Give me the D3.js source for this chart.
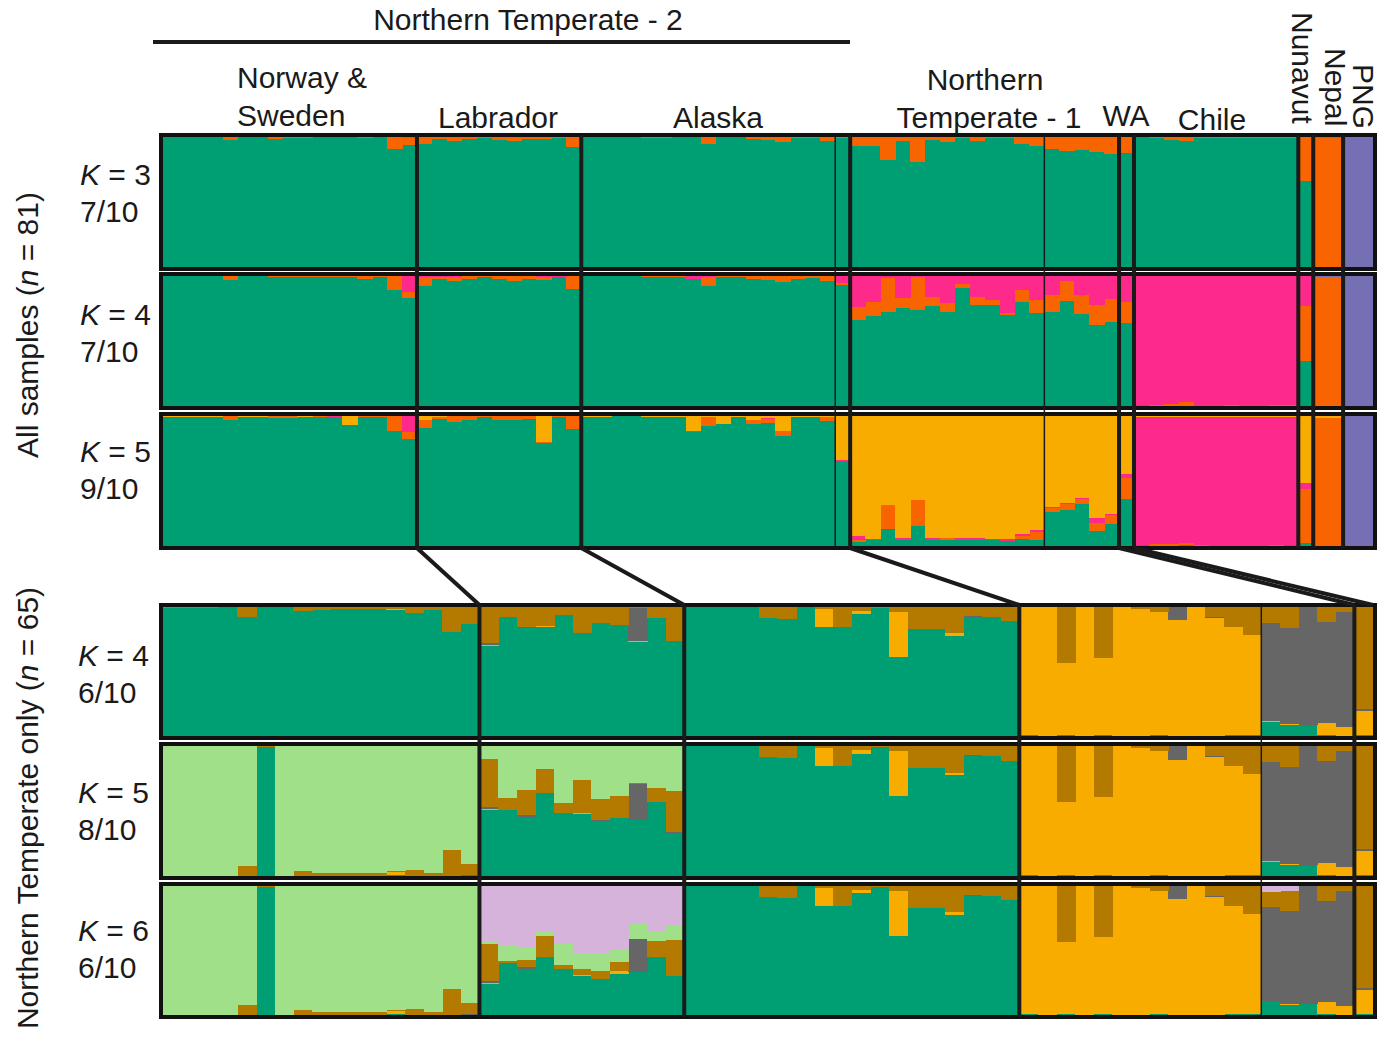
<!DOCTYPE html>
<html>
<head>
<meta charset="utf-8">
<script src="https://cdn.jsdelivr.net/npm/d3@7"></script>
<style>
  body { margin: 0; background: #fff; }
  text { font-family: "Liberation Sans", Arial, sans-serif; fill: #1a1a1a; }
</style>
</head>
<body>
<div id="chart"></div>
<script>
// ======================================================
// --- data: sample groups (in plotting order) and ancestry proportions
// ======================================================

const groupNames = ["Norway & Sweden", "Labrador", "Alaska", "Alaska (1)", "Northern Temperate - 1",
  "Northern Temperate - 1 (b)", "WA", "Chile", "Nunavut", "Nepal", "PNG"];
const groupSizes = [17, 11, 17, 1, 13, 5, 1, 11, 1, 2, 2];   // 81 samples
const nBottom = 65;                                           // first 7 groups

const clusterColors = {
  green: "#009E73", orange: "#F86400", pink: "#FE2A8B", yellow: "#F8AC00",
  purple: "#7570B3", brown: "#B47A00", gray: "#666666", light: "#9FE088", lilac: "#D6B3DA"
};

// --- All samples, K = 3
const k3Green = [
  0.997,0.997,0.997,0.997,0.977,0.997,0.997,0.985,0.995,0.995,0.997,0.997,0.997,0.995,0.997,0.905,0.935,
  0.95,0.982,0.967,0.982,0.992,0.975,0.967,0.982,0.982,0.992,0.923,
  0.997,0.997,0.997,0.997,0.992,0.992,0.997,0.997,0.944,0.997,0.997,0.982,0.975,0.962,0.992,0.992,0.967,
  0.992,
  0.931,0.931,0.823,0.967,0.808,0.974,0.962,0.992,0.967,0.992,0.992,0.944,0.931,
  0.905,0.89,0.897,0.885,0.867,
  0.874,
  0.997,0.992,0.974,0.967,0.995,0.995,0.995,0.995,0.995,0.995,0.995,
  0.66, 0, 0, 0, 0];
const k3Orange = [
  0.003,0.003,0.003,0.003,0.023,0.003,0.003,0.015,0.005,0.005,0.003,0.003,0.003,0.005,0.003,0.095,0.06,
  0.05,0.018,0.033,0.018,0.008,0.025,0.033,0.018,0.018,0.008,0.077,
  0.003,0.003,0.003,0.003,0.008,0.008,0.003,0.003,0.056,0.003,0.003,0.018,0.025,0.038,0.008,0.008,0.033,
  0.008,
  0.069,0.069,0.177,0.033,0.192,0.026,0.038,0.008,0.033,0.008,0.008,0.056,0.069,
  0.095,0.11,0.103,0.115,0.133,
  0.126,
  0.003,0.008,0.026,0.033,0.005,0.005,0.005,0.005,0.005,0.005,0.005,
  0.34, 0.995, 0.995, 0, 0];
const k3Purple = [
  0,0,0,0,0,0,0,0,0,0,0,0,0,0,0,0,0.005,
  0,0,0,0,0,0,0,0,0,0,0,
  0,0,0,0,0,0,0,0,0,0,0,0,0,0,0,0,0,
  0,
  0,0,0,0,0,0,0,0,0,0,0,0,0,
  0,0,0,0,0,
  0,
  0,0,0,0,0,0,0,0,0,0,0,
  0, 0.005, 0.005, 1, 1];

// --- All samples, K = 4
const k4Green = [
  0.997,0.997,0.997,0.997,0.972,0.997,0.997,0.99,0.99,0.992,0.992,0.992,0.992,0.98,0.995,0.895,0.834,
  0.926,0.977,0.962,0.975,0.992,0.975,0.965,0.98,0.972,0.992,0.9,
  0.997,0.997,0.997,0.997,0.99,0.99,0.995,0.977,0.921,0.995,0.995,0.977,0.972,0.956,0.977,0.987,0.962,
  0.931,
  0.663,0.692,0.725,0.753,0.738,0.77,0.72,0.91,0.78,0.775,0.7,0.8,0.715,
  0.724,0.806,0.708,0.623,0.646,
  0.64,
  0.005,0,0,0,0,0,0,0,0,0,0,
  0.347, 0, 0, 0, 0];
const k4Orange = [
  0.003,0.003,0.003,0.003,0.028,0.003,0.003,0.01,0.01,0.008,0.008,0.005,0.005,0.02,0.005,0.105,0.046,
  0.069,0.013,0.033,0.025,0.008,0.025,0.035,0.02,0.02,0,0.1,
  0.003,0.003,0.003,0.003,0.01,0.01,0.005,0,0.074,0.005,0.005,0.023,0.028,0.044,0.023,0.013,0.038,
  0.015,
  0.097,0.108,0.26,0.077,0.254,0.07,0.07,0.03,0.06,0.04,0.015,0.092,0.1,
  0.13,0.154,0.146,0.154,0.177,
  0.16,
  0,0.008,0.015,0.03,0,0,0.008,0,0,0.008,0.008,
  0.423, 0.995, 0.995, 0, 0];
const k4Pink = [
  0,0,0,0,0,0,0,0,0,0,0,0.003,0.003,0,0,0,0.12,
  0.005,0.01,0.005,0,0,0,0,0,0.008,0.008,0,
  0,0,0,0,0,0,0,0.023,0.005,0,0,0,0,0,0,0,0,
  0.054,
  0.24,0.2,0.015,0.17,0.008,0.16,0.21,0.06,0.16,0.185,0.285,0.108,0.185,
  0.146,0.04,0.146,0.223,0.177,
  0.2,
  0.995,0.992,0.985,0.97,1,1,0.992,1,1,0.992,0.992,
  0.23, 0, 0, 0, 0];
const k4Purple = k3Purple.map((v, i) => (i < 77 ? 0 : v));

// --- All samples, K = 5
const k5Green = [
  0.995,0.995,0.995,0.995,0.969,0.995,0.995,0.987,0.987,0.99,0.989,0.989,0.933,0.992,0.994,0.883,0.823,
  0.91,0.98,0.956,0.972,0.995,0.972,0.972,0.98,0.792,0.995,0.897,
  0.995,0.995,0.997,0.997,0.99,0.99,0.995,0.879,0.925,0.94,0.995,0.942,0.949,0.847,0.99,0.99,0.965,
  0.651,
  0.034,0.044,0.127,0.044,0.152,0.044,0.05,0.05,0.05,0.046,0.036,0.057,0.044,
  0.26,0.277,0.32,0.117,0.17,
  0.365,
  0.005,0,0.003,0.005,0,0,0,0,0,0,0.005,
  0.026, 0, 0, 0, 0];
const k5Orange = [
  0,0,0,0,0.028,0,0,0.01,0.01,0.005,0.008,0.005,0,0.005,0.003,0.114,0.054,
  0.062,0.01,0.044,0.028,0.005,0.028,0.028,0.02,0.008,0.005,0.103,
  0,0,0,0,0,0,0,0,0.07,0,0,0.03,0.03,0.039,0,0,0.03,
  0,
  0.01,0,0.186,0,0.2,0,0.008,0,0,0,0,0.02,0.062,
  0.03,0.047,0.044,0.062,0.07,
  0.16,
  0,0.013,0.015,0.02,0.005,0,0,0,0,0.005,0,
  0.414, 0.987, 0.987, 0, 0];
const k5Pink = [
  0,0,0,0,0,0,0,0,0,0,0,0.003,0,0,0,0,0.12,
  0,0,0,0,0,0,0,0,0,0,0,
  0,0,0,0,0,0,0,0.008,0,0,0,0,0.008,0,0,0,0,
  0.013,
  0.036,0.013,0,0.015,0,0.015,0.005,0.008,0.01,0.005,0.015,0.013,0.015,
  0.008,0.008,0.008,0.036,0.008,
  0.03,
  0.99,0.982,0.977,0.97,0.99,0.992,0.992,0.992,0.992,0.987,0.99,
  0.047, 0, 0, 0, 0];
const k5Yellow = [
  0.005,0.005,0.005,0.005,0.003,0.005,0.005,0.003,0.003,0.005,0.003,0.003,0.067,0.003,0.003,0.003,0.003,
  0.028,0.01,0,0,0,0,0,0,0.2,0,0,
  0.005,0.005,0.003,0.003,0.01,0.01,0.005,0.113,0.005,0.06,0.005,0.028,0.013,0.114,0.01,0.01,0.005,
  0.336,
  0.92,0.943,0.687,0.941,0.648,0.941,0.937,0.942,0.94,0.949,0.949,0.91,0.879,
  0.702,0.668,0.628,0.785,0.752,
  0.445,
  0.005,0.005,0.005,0.005,0.005,0.008,0.008,0.008,0.008,0.008,0.005,
  0.513, 0.013, 0.013, 0, 0];
const k5Purple = k4Purple.map((v, i) => (i < 79 ? 0 : v));

// --- Northern Temperate only: Alaska -> WA (37 samples, same in K = 4, 5, 6)
const eastGreen = [
  1,1,1,1,0.917,0.91,1,0.847,0.844,0.942,0.99,0.614,0.83,0.83,0.777,0.924,0.925,
  0.888,
  0.008,0,0.008,0,0.008,0,0,0.005,0,0,0,0.005,0.005,
  0.11,0.083,0.083,0.005,0,
  0.008];
const eastYellow = [
  0,0,0,0,0,0,0,0.14,0,0.03,0,0.35,0,0,0.018,0,0,
  0,
  0.992,1,0.558,1,0.597,1,0.982,0.959,0.896,1,0.912,0.842,0.78,
  0.008,0.009,0,0.094,0.07,
  0.187];
const eastGray = [
  0,0,0,0,0,0,0,0,0,0,0.005,0,0,0,0,0.008,0,
  0,
  0,0,0,0,0,0,0,0,0.104,0,0.013,0,0,
  0.76,0.748,0.917,0.787,0.894,
  0.013];
const eastBrown = [
  0,0,0,0,0.083,0.09,0,0.013,0.156,0.028,0.005,0.036,0.17,0.17,0.205,0.068,0.075,
  0.112,
  0,0,0.434,0,0.395,0,0.018,0.036,0,0,0.075,0.153,0.215,
  0.122,0.16,0,0.114,0.036,
  0.792];
const eastLilacK6 = [
  0,0,0,0,0,0,0,0,0,0,0,0,0,0,0,0,0,
  0,
  0,0,0,0,0,0,0,0,0,0,0,0,0,
  0.05,0.04,0,0,0,
  0];

// --- Northern Temperate only: Norway & Sweden + Labrador (28 samples)
const w4Green = [0.995,0.995,0.995,1,0.925,1,1,0.966,0.974,0.982,0.982,0.985,0.974,0.95,0.98,0.805,0.87,
  0.701,0.925,0.834,0.847,0.94,0.8,0.873,0.862,0.73,0.917,0.738];
const w4Yellow = [0,0,0,0,0,0,0,0,0,0,0,0,0.008,0,0,0,0,
  0.008,0,0,0.008,0,0,0,0,0.008,0,0];
const w4Gray = [0,0,0,0,0,0,0,0,0,0,0,0,0,0,0,0.005,0,
  0.013,0,0.008,0,0,0,0,0,0.257,0,0];
const w4Brown = [0.005,0.005,0.005,0,0.075,0,0,0.034,0.026,0.018,0.018,0.015,0.018,0.05,0.02,0.19,0.13,
  0.278,0.075,0.158,0.145,0.06,0.2,0.127,0.138,0.005,0.083,0.262];

const w5Green = [0,0,0,0,0,0.995,0,0,0,0,0,0,0.005,0,0,0,0,
  0.51,0.51,0.454,0.64,0.485,0.477,0.425,0.446,0.433,0.57,0.33];
const w5Yellow = [0,0,0,0,0,0,0,0,0,0,0,0,0.026,0,0,0,0,
  0.008,0,0,0,0,0.008,0,0,0,0,0];
const w5Gray = [0,0,0,0,0,0,0,0,0,0,0,0,0,0,0,0,0.008,
  0.013,0,0.013,0,0,0,0.008,0,0.276,0,0.008];
const w5Brown = [0,0,0,0,0.075,0.005,0,0.036,0.02,0.02,0.02,0.02,0.005,0.044,0.02,0.2,0.083,
  0.371,0.09,0.196,0.186,0.077,0.255,0.16,0.17,0.008,0.108,0.317];
const w5Light = [1,1,1,1,0.925,0,1,0.964,0.98,0.98,0.98,0.98,0.964,0.956,0.98,0.8,0.909,
  0.098,0.4,0.338,0.175,0.438,0.26,0.407,0.384,0.283,0.322,0.345];

const w6Green = [0,0,0,0,0,0.995,0,0,0,0,0,0,0.005,0,0,0,0,
  0.24,0.4,0.36,0.45,0.36,0.3,0.28,0.32,0.33,0.45,0.3];
const w6Yellow = [0,0,0,0,0,0,0,0,0,0,0,0,0.026,0,0,0,0,
  0.01,0,0,0,0,0.01,0,0.02,0,0,0];
const w6Gray = [0,0,0,0,0,0,0,0,0,0,0,0,0,0,0,0,0.008,
  0.01,0,0.01,0,0,0,0,0,0.26,0,0];
const w6Brown = [0,0,0,0,0.075,0.005,0,0.036,0.02,0.02,0.02,0.02,0.005,0.044,0.02,0.2,0.083,
  0.29,0.02,0.06,0.16,0.03,0.05,0.06,0.07,0,0.12,0.28];
const w6Light = [1,1,1,1,0.925,0,1,0.964,0.98,0.98,0.98,0.98,0.964,0.956,0.98,0.8,0.909,
  0.02,0.12,0.1,0.04,0.17,0.12,0.14,0.1,0.12,0.08,0.12];
const w6Lilac = [0,0,0,0,0,0,0,0,0,0,0,0,0,0,0,0,0,
  0.43,0.46,0.47,0.35,0.44,0.52,0.52,0.49,0.29,0.35,0.3];

const zeros28 = w4Green.map(() => 0);

// ======================================================
// --- layout
// ======================================================

const W = 1388, H = 1038;
const plotLeft = 163, plotRight = 1373;

const svg = d3.select("#chart").append("svg")
  .attr("width", W)
  .attr("height", H);

const nTop = d3.sum(groupSizes);
const xTop = d3.scaleBand().domain(d3.range(nTop)).range([plotLeft, plotRight]);
const xBot = d3.scaleBand().domain(d3.range(nBottom)).range([plotLeft, plotRight]);

// group boundaries (cumulative sample index)
const bounds = d3.cumsum(groupSizes);   // 17, 28, 45, 46, 59, 64, 65, 76, 77, 79, 81
const edge = (x, i) => (i >= x.domain().length ? plotRight : x(i));

function rows(keys, arrays) {
  return d3.range(arrays[0].length).map(i => {
    const r = { i };
    keys.forEach((k, j) => r[k] = arrays[j][i]);
    return r;
  });
}

const panels = [
  { x: xTop, y0: 137, y1: 267, label: "3", runs: "7/10", ly: 185,
    keys: ["green", "orange", "purple"], data: [k3Green, k3Orange, k3Purple] },
  { x: xTop, y0: 276, y1: 406, label: "4", runs: "7/10", ly: 325,
    keys: ["green", "orange", "pink", "purple"], data: [k4Green, k4Orange, k4Pink, k4Purple] },
  { x: xTop, y0: 416, y1: 546, label: "5", runs: "9/10", ly: 462,
    keys: ["green", "orange", "pink", "yellow", "purple"], data: [k5Green, k5Orange, k5Pink, k5Yellow, k5Purple] },
  { x: xBot, y0: 607, y1: 736, label: "4", runs: "6/10", ly: 666,
    keys: ["green", "yellow", "gray", "brown"],
    data: [w4Green.concat(eastGreen), w4Yellow.concat(eastYellow), w4Gray.concat(eastGray), w4Brown.concat(eastBrown)] },
  { x: xBot, y0: 746, y1: 876, label: "5", runs: "8/10", ly: 803,
    keys: ["green", "yellow", "gray", "brown", "light"],
    data: [w5Green.concat(eastGreen), w5Yellow.concat(eastYellow), w5Gray.concat(eastGray), w5Brown.concat(eastBrown),
      w5Light.concat(eastGreen.map(() => 0))] },
  { x: xBot, y0: 886, y1: 1015, label: "6", runs: "6/10", ly: 941,
    keys: ["green", "yellow", "gray", "brown", "light", "lilac"],
    data: [w6Green.concat(eastGreen), w6Yellow.concat(eastYellow), w6Gray.concat(eastGray), w6Brown.concat(eastBrown),
      w6Light.concat(eastGreen.map(() => 0)), w6Lilac.concat(eastLilacK6)] }
];

// ======================================================
// --- bars
// ======================================================

panels.forEach(p => {
  const y = d3.scaleLinear().domain([0, 1]).range([p.y1, p.y0]);
  const stacked = d3.stack().keys(p.keys).offset(d3.stackOffsetExpand)(rows(p.keys, p.data));

  svg.append("g")
    .selectAll("g")
    .data(stacked)
    .join("g")
    .attr("fill", d => clusterColors[d.key])
    .selectAll("rect")
    .data(d => d)
    .join("rect")
    .attr("shape-rendering", "crispEdges")
    .attr("x", d => p.x(d.data.i))
    .attr("width", p.x.bandwidth() + 0.6)
    .attr("y", d => y(d[1]))
    .attr("height", d => Math.max(0, y(d[0]) - y(d[1])));

  // panel frame
  svg.append("rect")
    .attr("x", plotLeft - 2)
    .attr("y", p.y0 - 2)
    .attr("width", plotRight - plotLeft + 4)
    .attr("height", p.y1 - p.y0 + 4)
    .attr("fill", "none")
    .attr("stroke", "#111")
    .attr("stroke-width", 4);

  // K label
  const kt = svg.append("text")
    .attr("x", p.x === xTop ? 80 : 78)
    .attr("y", p.ly)
    .attr("font-size", "30px");
  kt.append("tspan").attr("font-style", "italic").text("K");
  kt.append("tspan").text(" = " + p.label);
  svg.append("text")
    .attr("x", p.x === xTop ? 80 : 78)
    .attr("y", p.ly + 37)
    .attr("font-size", "30px")
    .text(p.runs);
});

// ======================================================
// --- group dividers and zoom connectors
// ======================================================

const thickTop = [bounds[0], bounds[1], bounds[3], bounds[5], bounds[6], bounds[7], bounds[8], bounds[9]];
const thinTop = [bounds[2], bounds[4]];
const thickBot = [bounds[0], bounds[1], bounds[3], bounds[5]];
const thinBot = [bounds[4]];

function vline(x, y0, y1, w) {
  svg.append("line")
    .attr("x1", x).attr("x2", x)
    .attr("y1", y0).attr("y2", y1)
    .attr("stroke", "#1a1a1a")
    .attr("stroke-width", w);
}

thickTop.forEach(i => vline(edge(xTop, i), 135, 548, 4));
thinTop.forEach(i => vline(edge(xTop, i), 137, 546, 1.5));
thickBot.forEach(i => vline(edge(xBot, i), 605, 1017, 4));
thinBot.forEach(i => vline(edge(xBot, i), 607, 1015, 1.5));

[bounds[0], bounds[1], bounds[3], bounds[5], bounds[6]].forEach(i => {
  svg.append("line")
    .attr("x1", edge(xTop, i)).attr("y1", 548)
    .attr("x2", edge(xBot, i)).attr("y2", 605)
    .attr("stroke", "#1a1a1a")
    .attr("stroke-width", 4);
});

// ======================================================
// --- labels
// ======================================================

svg.append("text")
  .attr("x", 528).attr("y", 30)
  .attr("text-anchor", "middle")
  .attr("font-size", "30px")
  .text("Northern Temperate - 2");

svg.append("line")
  .attr("x1", 153).attr("x2", 850)
  .attr("y1", 42).attr("y2", 42)
  .attr("stroke", "#1a1a1a")
  .attr("stroke-width", 4);

const groupLabels = [
  { text: "Norway &", x: 237, y: 88, anchor: "start" },
  { text: "Sweden", x: 237, y: 126, anchor: "start" },
  { text: "Labrador", x: 498, y: 128, anchor: "middle" },
  { text: "Alaska", x: 718, y: 128, anchor: "middle" },
  { text: "Northern", x: 985, y: 90, anchor: "middle" },
  { text: "Temperate - 1", x: 989, y: 128, anchor: "middle" },
  { text: "WA", x: 1126, y: 126, anchor: "middle" },
  { text: "Chile", x: 1212, y: 130, anchor: "middle" }
];

svg.selectAll(".grp")
  .data(groupLabels)
  .join("text")
  .attr("class", "grp")
  .attr("x", d => d.x)
  .attr("y", d => d.y)
  .attr("text-anchor", d => d.anchor)
  .attr("font-size", "30px")
  .text(d => d.text);

// rotated labels on the right
[
  { text: "Nunavut", x: 1292, y: 12 },
  { text: "Nepal", x: 1325, y: 48 },
  { text: "PNG", x: 1353, y: 64 }
].forEach(d => {
  svg.append("text")
    .attr("transform", `translate(${d.x},${d.y}) rotate(90)`)
    .attr("font-size", "30px")
    .text(d.text);
});

// side titles
function sideTitle(cy, pre, post) {
  const t = svg.append("text")
    .attr("transform", `translate(38,${cy}) rotate(-90)`)
    .attr("text-anchor", "middle")
    .attr("font-size", "30px");
  t.append("tspan").text(pre);
  t.append("tspan").attr("font-style", "italic").text("n");
  t.append("tspan").text(post);
}
sideTitle(325, "All samples (", " = 81)");
sideTitle(808, "Northern Temperate only (", " = 65)");
</script>
</body>
</html>
